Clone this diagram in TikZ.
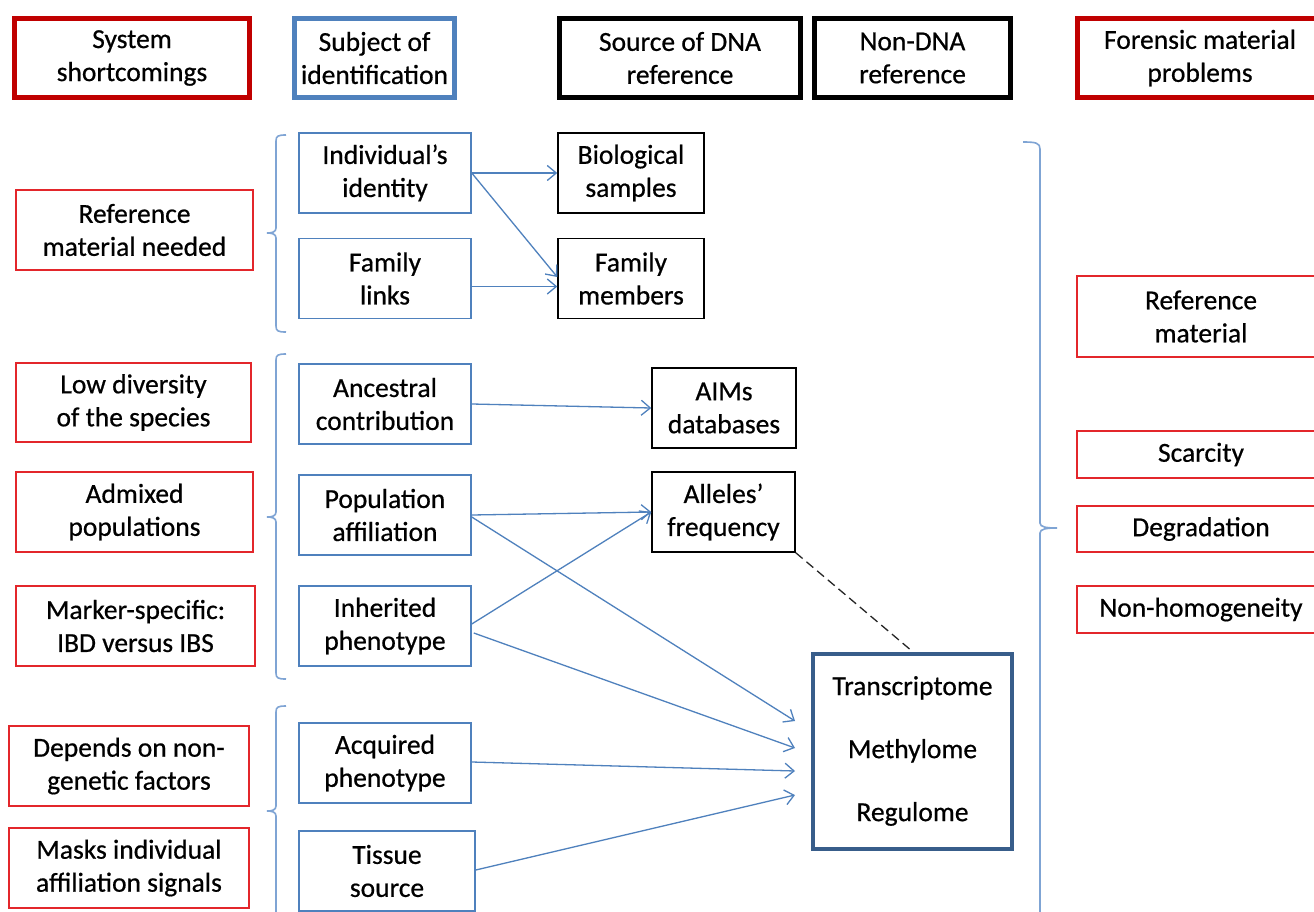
\documentclass[tikz,border=0pt]{standalone}
\usepackage{fontspec}
\setmainfont{Carlito}
\newfontfamily\heavyfont{Carlito}[FakeBold=0.6]
\usetikzlibrary{arrows.meta}
\definecolor{hred}{HTML}{C00000}
\definecolor{bred}{HTML}{E3262B}
\definecolor{sblue}{HTML}{4F81BD}
\definecolor{dblue}{HTML}{385D8A}
\definecolor{brcblue}{HTML}{7FA4D4}
\tikzset{
  box/.style={draw, align=center, inner sep=0pt, line width=1.5pt, fill=white,
    font=\heavyfont\fontsize{27.5}{33}\selectfont, minimum height=80},
  hdr/.style={box, line width=5pt, minimum height=79},
  redbox/.style={box, draw=bred},
  bluebox/.style={box, draw=sblue},
  blackbox/.style={box, draw=black},
  arr/.style={draw=sblue, line width=1.3pt, -{Straight Barb[length=9pt,width=15pt]}},
  brc/.style={draw=brcblue, line width=1.6pt},
  dsh/.style={draw=black!85, line width=1.3pt, dash pattern=on 9pt off 5pt}
}
\begin{document}
\begin{tikzpicture}[x=1pt,y=-1pt]
\useasboundingbox[fill=white] (0,0) rectangle (1314,912);

% header row
\node[hdr, draw=hred, minimum width=235] (sys) at (132,58) {System\\shortcomings};
\node[hdr, draw=sblue, minimum width=160] (subj) at (374.5,58) {Subject of\\identification};
\node[hdr, draw=black, minimum width=241] (src) at (680,58) {Source of DNA\\reference};
\node[hdr, draw=black, minimum width=196] (ndna) at (912.5,58) {Non-DNA\\reference};
\node[hdr, draw=hred, minimum width=245] (forp) at (1200,58) {Forensic material\\problems};

% left red boxes
\node[redbox, minimum width=237] (rmn) at (134.5,230) {Reference\\material needed};
\node[redbox, minimum width=235, minimum height=79] (low) at (133.5,402.5) {Low diversity\\of the species};
\node[redbox, minimum width=237] (adm) at (134.5,512) {Admixed\\populations};
\node[redbox, minimum width=239] (mark) at (135.5,626) {Marker-specific:\\IBD versus IBS};
\node[redbox, minimum width=240] (dep) at (129,766) {Depends on non-\\genetic factors};
\node[redbox, minimum width=240] (mask) at (129,868) {Masks individual\\affiliation signals};

% subject boxes
\node[bluebox, minimum width=172] (ind) at (385,173) {Individual’s\\identity};
\node[bluebox, minimum width=172] (fam) at (385,278.5) {Family\\links};
\node[bluebox, minimum width=172] (anc) at (385,404) {Ancestral\\contribution};
\node[bluebox, minimum width=172] (pop) at (385,515) {Population\\affiliation};
\node[bluebox, minimum width=172] (inh) at (385,626) {Inherited\\phenotype};
\node[bluebox, minimum width=172] (acq) at (385,763) {Acquired\\phenotype};
\node[bluebox, minimum width=176] (tis) at (387,871) {Tissue\\source};

% reference boxes
\node[blackbox, minimum width=146] (bio) at (631,173) {Biological\\samples};
\node[blackbox, minimum width=146] (fmem) at (631,278.5) {Family\\members};
\node[blackbox, minimum width=144] (aims) at (724,408) {AIMs\\databases};
\node[blackbox, minimum width=143] (allel) at (723.5,512) {Alleles’\\frequency};
\node[box, draw=dblue, line width=4pt, minimum width=199, minimum height=195] (tm) at (912.5,751) {Transcriptome\\[30pt]Methylome\\[30pt]Regulome};

% right red boxes
\node[redbox, minimum width=248, minimum height=81] (refm) at (1201,316.5) {Reference\\material};
\node[redbox, minimum width=248, minimum height=47] (scar) at (1201,454.5) {Scarcity};
\node[redbox, minimum width=248, minimum height=46] (degr) at (1201,529) {Degradation};
\node[redbox, minimum width=248, minimum height=47] (nonh) at (1201,609.5) {Non-homogeneity};

% arrow targets in front of the non-DNA box
\coordinate (t1) at (795,721);
\coordinate (t2) at (795,748);
\coordinate (t3) at (795,771);
\coordinate (t4) at (795,795);

% connectors
\draw[arr] (ind.east) -- (bio.west);
\draw[arr] (ind.east) -- ([yshift=1.5pt]fmem.west);
\draw[arr] ([yshift=-8pt]fam.east) -- ([yshift=-8pt]fmem.west);
\draw[arr] (anc.east) -- (aims.west);
\draw[arr] (pop.east) -- (allel.west);
\draw[arr] ([yshift=-2pt]pop.east) -- (t1);
\draw[arr] ([yshift=2pt]inh.east) -- (allel.west);
\draw[arr] ([xshift=2pt,yshift=-7pt]inh.east) -- (t2);
\draw[arr] ([yshift=1pt]acq.east) -- (t3);
\draw[arr] ([yshift=1pt]tis.east) -- (t4);
\draw[dsh] (allel.south east) -- (tm.north);

% left braces
\draw[brc] (286,135) .. controls (278,135) and (276,136) .. (276,141) -- (276,228) .. controls (276,232) and (272,233) .. (267,233) .. controls (272,233) and (276,234) .. (276,238) -- (276,326) .. controls (276,331) and (278,332) .. (286,332);
\draw[brc] (286,354) .. controls (278,354) and (276,355) .. (276,360) -- (276,512) .. controls (276,516) and (272,517) .. (267,517) .. controls (272,517) and (276,518) .. (276,522) -- (276,673) .. controls (276,678) and (278,679) .. (286,679);
\draw[brc] (286,706) .. controls (278,706) and (276,707) .. (276,712) -- (276,806) .. controls (276,810) and (272,811) .. (267,811) .. controls (272,811) and (276,812) .. (276,816) -- (276,925);
% right brace
\draw[brc] (1023,142) .. controls (1036,142) and (1040,143) .. (1040,149) -- (1040,523) .. controls (1040,527) and (1046,528) .. (1057,528) .. controls (1046,528) and (1040,529) .. (1040,533) -- (1040,925);
\end{tikzpicture}
\end{document}
